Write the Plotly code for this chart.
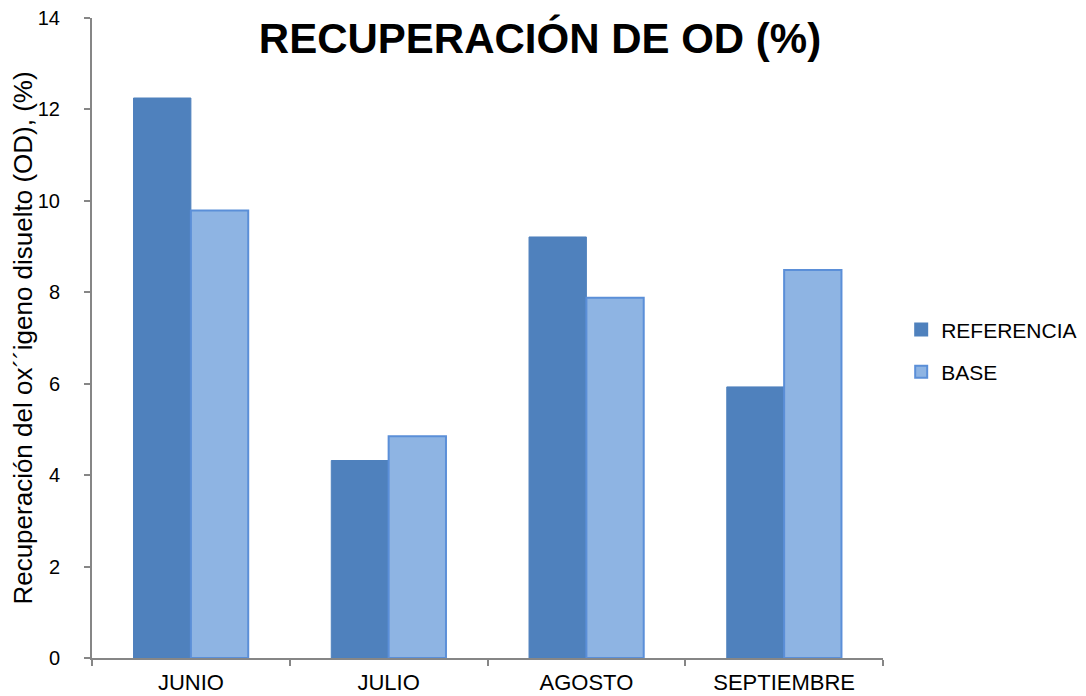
import plotly.graph_objects as go

meses = ["JUNIO", "JULIO", "AGOSTO", "SEPTIEMBRE"]
referencia = [12.25, 4.32, 9.21, 5.93]
base = [9.79, 4.85, 7.88, 8.49]

fig = go.Figure()
fig.add_trace(go.Bar(x=meses, y=referencia, name="REFERENCIA", legendgroup="ref",
                     marker=dict(color="#4F81BD", line=dict(color="#4F81BD", width=1))))
fig.add_trace(go.Bar(x=meses, y=base, name="BASE", legendgroup="base",
                     marker=dict(color="#8EB4E3", line=dict(color="#5B8FD8", width=2))))

# la página tiene 8px de margen en body, se compensa aquí
fig.update_layout(
    width=1086, height=696,
    paper_bgcolor="white", plot_bgcolor="white",
    font=dict(family="Liberation Sans, Arial", color="black"),
    barmode="group", bargap=0.42, bargroupgap=0,
    margin=dict(l=84, r=211, t=10, b=46),
    title=dict(text="<b>RECUPERACIÓN DE OD (%)</b>", font=dict(size=42),
               xref="container", x=532 / 1086, xanchor="center",
               yref="container", y=1 - 30 / 696, yanchor="middle"),
    legend=dict(x=1.023, y=0.48, xanchor="left", yanchor="middle",
                font=dict(size=21), itemsizing="constant", tracegroupgap=12),
)
fig.update_yaxes(range=[0, 14], dtick=2, showgrid=False, zeroline=False,
                 showline=True, linecolor="#868686", linewidth=2, automargin=False,
                 ticks="outside", ticklen=6, tickcolor="#868686", tickwidth=2,
                 ticklabelstandoff=20, ticklabeloverflow="allow", tickfont=dict(size=20),
                 title=dict(text="Recuperación del ox´´igeno disuelto (OD), (%)",
                            font=dict(size=26), standoff=8))
fig.update_xaxes(showgrid=False, showline=True, linecolor="#868686", linewidth=2,
                 automargin=False,
                 ticks="outside", ticklen=6, tickcolor="#868686", tickwidth=2,
                 ticklabelstandoff=4, ticklabeloverflow="allow",
                 tickson="boundaries", tickfont=dict(size=22))

fig.write_html("out.html")
